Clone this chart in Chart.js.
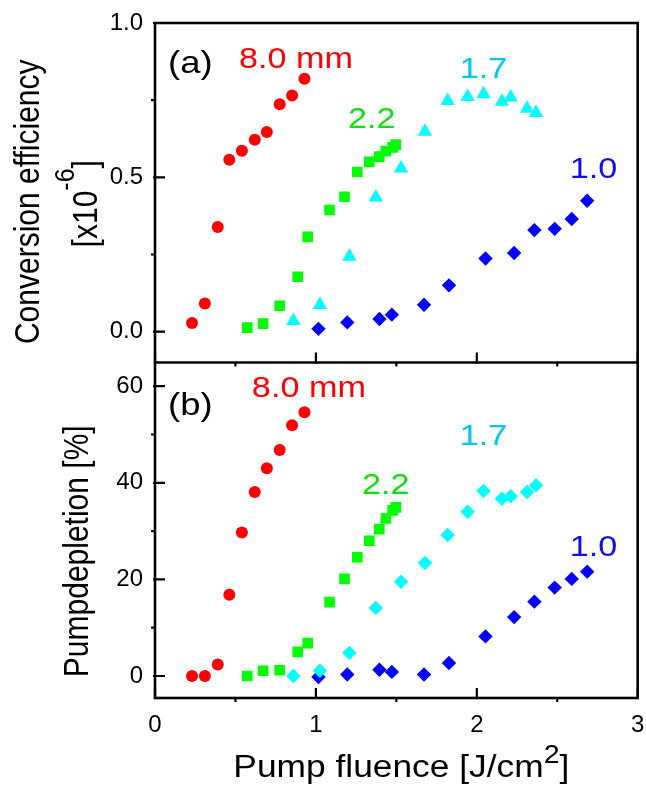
<!DOCTYPE html>
<html>
<head>
<meta charset="utf-8">
<script src="https://cdn.jsdelivr.net/npm/chart.js@4.4.1/dist/chart.umd.min.js"></script>
<style>
html,body{margin:0;padding:0;background:#fff;}
#wrap{width:646px;height:787px;position:relative;}
</style>
</head>
<body>
<div id="wrap"><canvas id="c" width="646" height="787" style="width:646px;height:787px"></canvas></div>
<script>
// ---------- DATA ----------
// Pump fluence [J/cm^2] for each crystal thickness
const fluence_80 = [0.23, 0.31, 0.39, 0.462, 0.54, 0.62, 0.695, 0.775, 0.852, 0.929];
const fluence_22 = [0.573, 0.672, 0.775, 0.887, 0.949, 1.085, 1.178, 1.257, 1.332, 1.394, 1.435, 1.477, 1.497];
const fluence_17 = [0.86, 1.025, 1.208, 1.372, 1.529, 1.678, 1.819, 1.943, 2.042, 2.156, 2.211, 2.312, 2.368];
const fluence_10 = [1.016, 1.195, 1.395, 1.472, 1.672, 1.827, 2.054, 2.232, 2.358, 2.484, 2.59, 2.686];

// (a) Conversion efficiency [x10^-6]
const eff_80 = [0.028, 0.091, 0.339, 0.557, 0.586, 0.622, 0.647, 0.737, 0.765, 0.819];
const eff_22 = [0.013, 0.026, 0.084, 0.178, 0.307, 0.394, 0.437, 0.517, 0.550, 0.567, 0.585, 0.597, 0.606];
const eff_17 = [0.035, 0.087, 0.243, 0.435, 0.529, 0.648, 0.748, 0.761, 0.770, 0.745, 0.759, 0.723, 0.709];
const eff_10 = [0.009, 0.030, 0.041, 0.055, 0.087, 0.150, 0.237, 0.255, 0.329, 0.333, 0.365, 0.424];

// (b) Pump depletion [%]
const dep_80 = [0.0, 0.0, 2.4, 16.8, 29.7, 38.1, 43.0, 46.8, 51.9, 54.6];
const dep_22 = [0.0, 1.1, 1.2, 5.0, 6.8, 15.3, 20.1, 24.6, 28.0, 30.4, 32.6, 34.3, 34.9];
const dep_17 = [0.0, 1.1, 4.8, 14.1, 19.5, 23.4, 29.2, 34.0, 38.3, 36.7, 37.2, 38.1, 39.5];
const dep_10 = [-0.2, 0.3, 1.3, 0.85, 0.3, 2.7, 8.2, 12.2, 15.4, 18.3, 20.1, 21.6];

// Series labels and tick values
const seriesLabels = ['8.0 mm', '2.2', '1.7', '1.0'];
const xTicks = [0, 1, 2, 3];
const xMinorTicks = [0.5, 1.5, 2.5];
const effTicks = [0, 0.5, 1.0];
const effMinorTicks = [0.25, 0.75];
const depTicks = [0, 20, 40, 60];
const depMinorTicks = [10, 30, 50];

// ---------- STYLE ----------
const FONT = "'Liberation Sans', Arial, Helvetica, sans-serif";
const STRETCH = 1.14;
const RED = '#ff0000', GREEN = '#00ff00', CYAN = '#00ffff', BLUE = '#0000ff';
const TXT = {red: '#ff0000', green: '#11dd11', cyan: '#00c4f2', blue: '#1010e6'};

// annotation placement (data coordinates of the text's left baseline)
const notesA = [
  {t: '(a)', x: 0.081, y: 0.838, c: '#000', s: 32},
  {t: seriesLabels[0], x: 0.522, y: 0.854, c: TXT.red, s: 30},
  {t: seriesLabels[1], x: 1.199, y: 0.659, c: TXT.green, s: 30},
  {t: seriesLabels[2], x: 1.894, y: 0.821, c: TXT.cyan, s: 30},
  {t: seriesLabels[3], x: 2.578, y: 0.497, c: TXT.blue, s: 30}
];
const notesB = [
  {t: '(b)', x: 0.081, y: 54.0, c: '#000', s: 32},
  {t: seriesLabels[0], x: 0.602, y: 57.7, c: TXT.red, s: 30},
  {t: seriesLabels[1], x: 1.286, y: 37.7, c: TXT.green, s: 30},
  {t: seriesLabels[2], x: 1.894, y: 47.8, c: TXT.cyan, s: 30},
  {t: seriesLabels[3], x: 2.578, y: 24.8, c: TXT.blue, s: 30}
];

const pts = (xs, ys) => xs.map((x, i) => ({x: x, y: ys[i]}));

function ds(label, xs, ys, axis, color, style, r) {
  return {
    label: label, data: pts(xs, ys), yAxisID: axis,
    pointStyle: style, pointRadius: r, pointHoverRadius: r,
    backgroundColor: color, borderColor: color, pointBorderWidth: 0,
    showLine: false
  };
}

function richText(ctx, parts, x, y, angle, align, color) {
  ctx.save();
  ctx.translate(x, y);
  ctx.scale(STRETCH, 1);
  ctx.rotate(angle);
  ctx.fillStyle = color;
  ctx.textBaseline = 'alphabetic';
  ctx.textAlign = 'left';
  let total = 0;
  const widths = parts.map(p => {
    ctx.font = p.size + 'px ' + FONT;
    const w = ctx.measureText(p.t).width;
    total += w;
    return w;
  });
  let cx = align === 'center' ? -total / 2 : 0;
  parts.forEach((p, i) => {
    ctx.font = p.size + 'px ' + FONT;
    ctx.fillText(p.t, cx, -(p.rise || 0));
    cx += widths[i];
  });
  ctx.restore();
}

const framePlugin = {
  id: 'frame',
  afterDatasetsDraw(chart) {
    const ctx = chart.ctx;
    const a = chart.chartArea;
    const x = chart.scales.x, yA = chart.scales.yA, yB = chart.scales.yB;
    const sep = yA.bottom;
    ctx.save();
    ctx.strokeStyle = '#000';
    ctx.lineCap = 'butt';
    // ticks
    ctx.lineWidth = 2.2;
    ctx.beginPath();
    const MAJ = 10, MIN = 4;
    [a.bottom, sep].forEach(yy => {
      xTicks.forEach(v => { const px = x.getPixelForValue(v); ctx.moveTo(px, yy + 1); ctx.lineTo(px, yy - MAJ); });
      xMinorTicks.forEach(v => { const px = x.getPixelForValue(v); ctx.moveTo(px, yy); ctx.lineTo(px, yy + MIN); });
    });
    effTicks.forEach(v => { const py = yA.getPixelForValue(v); ctx.moveTo(a.left - 2, py); ctx.lineTo(a.left + MAJ, py); });
    effMinorTicks.forEach(v => { const py = yA.getPixelForValue(v); ctx.moveTo(a.left, py); ctx.lineTo(a.left - MIN, py); });
    depTicks.forEach(v => { const py = yB.getPixelForValue(v); ctx.moveTo(a.left - 2, py); ctx.lineTo(a.left + MAJ, py); });
    depMinorTicks.forEach(v => { const py = yB.getPixelForValue(v); ctx.moveTo(a.left, py); ctx.lineTo(a.left - MIN, py); });
    ctx.stroke();
    // frame and separator
    ctx.lineWidth = 2.6;
    ctx.strokeRect(a.left, a.top, a.right - a.left, a.bottom - a.top);
    ctx.beginPath();
    ctx.moveTo(a.left, sep); ctx.lineTo(a.right, sep);
    ctx.stroke();
    ctx.restore();

    // annotations
    notesA.forEach(n => richText(ctx, [{t: n.t, size: n.s}], x.getPixelForValue(n.x), yA.getPixelForValue(n.y), 0, 'left', n.c));
    notesB.forEach(n => richText(ctx, [{t: n.t, size: n.s}], x.getPixelForValue(n.x), yB.getPixelForValue(n.y), 0, 'left', n.c));

    // axis titles
    const cA = (yA.top + yA.bottom) / 2, cB = (yB.top + yB.bottom) / 2;
    richText(ctx, [{t: 'Conversion efficiency', size: 30}], 39, cA + 9, -Math.PI / 2, 'center', '#000');
    richText(ctx, [{t: '[x10', size: 30}, {t: '-6', size: 25, rise: 20}, {t: ']', size: 30}], 97, cA + 11, -Math.PI / 2, 'center', '#000');
    richText(ctx, [{t: 'Pumpdepletion [%]', size: 30}], 88, cB + 21, -Math.PI / 2, 'center', '#000');
    richText(ctx, [{t: 'Pump fluence [J/cm', size: 31}, {t: '2', size: 25, rise: 14}, {t: ']', size: 31}],
      (a.left + a.right) / 2 + 5, a.bottom + 79, 0, 'center', '#000');
  }
};

const tickFont = {family: FONT, size: 24};

new Chart(document.getElementById('c'), {
  type: 'scatter',
  data: {
    datasets: [
      ds('8.0 mm (a)', fluence_80, eff_80, 'yA', RED, 'circle', 6),
      ds('2.2 (a)', fluence_22, eff_22, 'yA', GREEN, 'rect', 7.5),
      ds('1.7 (a)', fluence_17, eff_17, 'yA', CYAN, 'triangle', 8.3),
      ds('1.0 (a)', fluence_10, eff_10, 'yA', BLUE, 'rectRot', 7.2),
      ds('8.0 mm (b)', fluence_80, dep_80, 'yB', RED, 'circle', 6),
      ds('2.2 (b)', fluence_22, dep_22, 'yB', GREEN, 'rect', 7.5),
      ds('1.7 (b)', fluence_17, dep_17, 'yB', CYAN, 'rectRot', 7.2),
      ds('1.0 (b)', fluence_10, dep_10, 'yB', BLUE, 'rectRot', 7.2)
    ]
  },
  options: {
    responsive: false,
    animation: false,
    devicePixelRatio: 1,
    layout: {padding: {top: 23, right: 8, bottom: 0, left: 0}},
    plugins: {legend: {display: false}, tooltip: {enabled: false}},
    scales: {
      x: {
        type: 'linear', min: 0, max: 3,
        afterBuildTicks: s => { s.ticks = xTicks.map(v => ({value: v})); },
        afterFit: s => { s.height = 89; s.paddingLeft = 0; s.paddingRight = 0; },
        ticks: {font: tickFont, color: '#000', padding: 13, maxRotation: 0, autoSkip: false, callback: v => String(v)},
        grid: {display: false, drawTicks: false},
        border: {display: false}
      },
      yB: {
        type: 'linear', position: 'left', stack: 'panels', stackWeight: 335.5,
        min: -4.55, max: 64.9,
        afterBuildTicks: s => { s.ticks = depTicks.map(v => ({value: v})); },
        afterFit: s => { s.width = 155; s.paddingTop = 0; s.paddingBottom = 0; },
        ticks: {font: tickFont, color: '#000', padding: 12, autoSkip: false, callback: v => String(v)},
        grid: {display: false, drawTicks: false},
        border: {display: false}
      },
      yA: {
        type: 'linear', position: 'left', stack: 'panels', stackWeight: 339.5,
        min: -0.1, max: 1.0,
        afterBuildTicks: s => { s.ticks = effTicks.map(v => ({value: v})); },
        afterFit: s => { s.width = 155; s.paddingTop = 0; s.paddingBottom = 0; },
        ticks: {font: tickFont, color: '#000', padding: 12, autoSkip: false, callback: v => v.toFixed(1)},
        grid: {display: false, drawTicks: false},
        border: {display: false}
      }
    }
  },
  plugins: [framePlugin]
});
</script>
</body>
</html>
